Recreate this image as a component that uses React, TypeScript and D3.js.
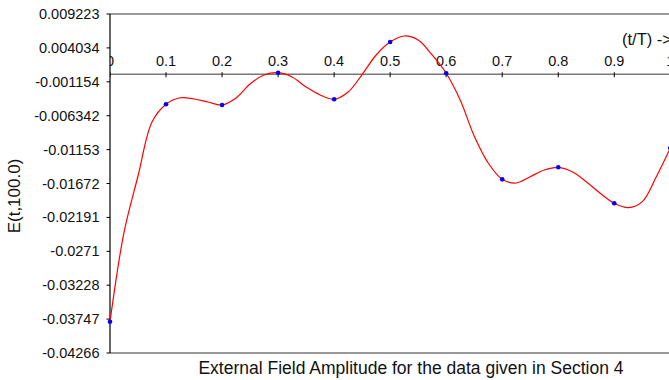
import React, { useEffect, useRef } from 'react';
import * as d3 from 'd3';

// line samples (t/T)
const fieldTimes = [
    0, 0.025, 0.05, 0.075, 0.1, 0.125, 0.15, 0.175, 0.2, 0.225,
    0.25, 0.275, 0.3, 0.325, 0.35, 0.375, 0.4, 0.425, 0.45, 0.475,
    0.5, 0.525, 0.55, 0.575, 0.6, 0.625, 0.65, 0.675, 0.7, 0.725,
    0.75, 0.775, 0.8, 0.825, 0.85, 0.875, 0.9, 0.925, 0.95, 0.975, 1
];
const fieldValues = [
    -0.03787, -0.02420, -0.01557, -0.00731, -0.0046, -0.00359, -0.00379, -0.00425, -0.0047, -0.00363,
    -0.00149, -0.00011, 0.00024, -0.00042, -0.00195, -0.00317, -0.00383, -0.00272, -0.00004, 0.00295,
    0.00494, 0.00586, 0.00524, 0.00295, 0.00015, -0.00394, -0.00945, -0.01358, -0.01608, -0.01664,
    -0.01568, -0.01465, -0.01424, -0.01491, -0.01644, -0.01822, -0.01975, -0.02042, -0.0195, -0.01568, -0.01129
];

// marker points
const markerTimes = [0, 0.1, 0.2, 0.3, 0.4, 0.5, 0.6, 0.7, 0.8, 0.9, 1];
const markerValues = [-0.03787, -0.0046, -0.0047, 0.00024, -0.00383, 0.00494, 0.00015, -0.01608, -0.01424, -0.01975, -0.01129];

const xTickLabels = ["0", "0.1", "0.2", "0.3", "0.4", "0.5", "0.6", "0.7", "0.8", "0.9", "1"];
const yTickLabels = [
    "0.009223", "0.004034", "-0.001154", "-0.006342", "-0.01153", "-0.01672",
    "-0.02191", "-0.0271", "-0.03228", "-0.03747", "-0.04266"
];

const FONT = "'Liberation Sans', Arial, Helvetica, sans-serif";

export default function App() {
    const chartRef = useRef<SVGSVGElement>(null);

    useEffect(() => {
        if (!chartRef.current) return;
        const svg = d3.select(chartRef.current);
        svg.selectAll("*").remove();

        const left = 110, right = 670.3, top = 14, bottom = 353;
        const yMax = +yTickLabels[0];
        const yMin = +yTickLabels[yTickLabels.length - 1];

        const x = d3.scaleLinear().domain([0, 1]).range([left, right]);
        const y = d3.scaleLinear().domain([yMin, yMax]).range([bottom, top]);

        svg.append("rect").attr("width", 669).attr("height", 380).attr("fill", "#fff");

        const defs = svg.append("defs");
        defs.append("clipPath").attr("id", "plotClip")
            .append("rect")
            .attr("x", left).attr("y", 0)
            .attr("width", 700).attr("height", 380);

        // plot frame
        svg.append("line")
            .attr("x1", left).attr("x2", 669)
            .attr("y1", top).attr("y2", top)
            .attr("stroke", "#777").attr("stroke-width", 1.5);
        svg.append("line")
            .attr("x1", left).attr("x2", 669)
            .attr("y1", bottom).attr("y2", bottom)
            .attr("stroke", "#777").attr("stroke-width", 1.5);

        // x axis at zero
        const y0 = y(0);
        svg.append("line")
            .attr("x1", left).attr("x2", 669)
            .attr("y1", y0).attr("y2", y0)
            .attr("stroke", "#777").attr("stroke-width", 1.5);

        const xg = svg.append("g").attr("clip-path", "url(#plotClip)");
        xTickLabels.forEach(lbl => {
            const tx = x(+lbl);
            xg.append("line")
                .attr("x1", tx).attr("x2", tx)
                .attr("y1", y0 - 2).attr("y2", y0 + 3)
                .attr("stroke", "#000").attr("stroke-width", 1);
            xg.append("text")
                .attr("x", tx).attr("y", y0 - 8.5)
                .attr("text-anchor", "middle")
                .style("font-family", FONT)
                .style("font-size", "14.5px")
                .style("fill", "#111")
                .text(lbl);
        });

        svg.append("text")
            .attr("x", 622).attr("y", 45)
            .style("font-family", FONT)
            .style("font-size", "16.5px")
            .style("fill", "#111")
            .text("(t/T) ->");

        // y axis
        svg.append("line")
            .attr("x1", left).attr("x2", left)
            .attr("y1", top).attr("y2", bottom)
            .attr("stroke", "#000").attr("stroke-width", 1.2);

        yTickLabels.forEach(lbl => {
            const ty = y(+lbl);
            svg.append("line")
                .attr("x1", left - 3.5).attr("x2", left)
                .attr("y1", ty).attr("y2", ty)
                .attr("stroke", "#000").attr("stroke-width", 1);
            svg.append("text")
                .attr("x", 99.5).attr("y", ty)
                .attr("dy", "0.35em")
                .attr("text-anchor", "end")
                .style("font-family", FONT)
                .style("font-size", "14.5px")
                .style("fill", "#111")
                .text(lbl);
        });

        // curve
        const line = d3.line<number>()
            .x((d, i) => x(fieldTimes[i]))
            .y(d => y(d))
            .curve(d3.curveCatmullRom);

        svg.append("path")
            .datum(fieldValues)
            .attr("d", line as any)
            .attr("fill", "none")
            .attr("stroke", "#ff0000")
            .attr("stroke-width", 1.2);

        svg.selectAll(".marker")
            .data(markerValues)
            .enter()
            .append("circle")
            .attr("class", "marker")
            .attr("cx", (d, i) => x(markerTimes[i]))
            .attr("cy", d => y(d))
            .attr("r", 2.3)
            .attr("fill", "#0000ff");

        // axis titles
        svg.append("text")
            .attr("transform", "translate(20,196) rotate(-90)")
            .attr("text-anchor", "middle")
            .style("font-family", FONT)
            .style("font-size", "17px")
            .style("fill", "#111")
            .text("E(t,100.0)");

        svg.append("text")
            .attr("x", 411).attr("y", 374)
            .attr("text-anchor", "middle")
            .style("font-family", FONT)
            .style("font-size", "17.5px")
            .style("fill", "#111")
            .text("External Field Amplitude for the data given in Section 4");
    }, []);

    return (
        <svg
            ref={chartRef}
            width={669}
            height={380}
            style={{ position: 'absolute', left: 0, top: 0, display: 'block' }}
        ></svg>
    );
}
